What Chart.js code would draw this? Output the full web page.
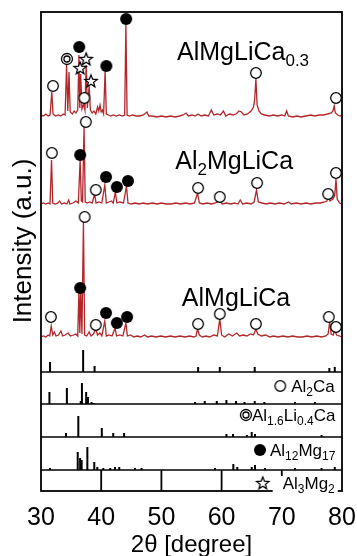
<!DOCTYPE html>
<html>
<head>
<meta charset="utf-8">
<script src="https://cdn.jsdelivr.net/npm/chart.js@4.4.0/dist/chart.umd.min.js"></script>
<style>
  html, body { margin: 0; padding: 0; background: #fff; }
</style>
</head>
<body>
<canvas id="xrd" width="357" height="556"></canvas>
<script>
// ---------- data ----------
// 2θ axis range and tick labels
const twoThetaRange = [30, 80];
const twoThetaTicks = [30, 40, 50, 60, 70, 80];

// Measured diffractograms: [2θ (deg), intensity (a.u., above the trace baseline)]
const patternAlMgLiCa03 = [
  [30,2],[30.4,1],[30.8,3],[31.2,1],[31.5,2],[31.8,25],[32.0,3],[32.4,1],[32.9,2],[33.3,1],
  [33.7,3],[34.0,2],[34.25,52],[34.45,6],[34.65,45],[34.85,5],[35.2,3],[35.5,6],[35.8,4],[36.1,7],
  [36.3,62],[36.45,9],[36.6,43],[36.8,8],[37.1,13],[37.3,7],[37.5,52],[37.7,9],[38.0,31],[38.2,7],
  [38.5,4],[38.8,6],[39.1,3],[39.4,10],[39.6,6],[39.8,12],[40.0,5],[40.2,7],[40.4,3],[40.65,46],
  [40.85,3],[41.2,2],[41.6,1],[42.0,2],[42.5,1],[43.0,2],[43.5,1],[43.9,2],[44.1,93],[44.3,2],
  [44.7,1],[45.2,2],[45.8,1],[46.4,1],[47.0,2],[47.6,5],[47.9,1],[48.5,1],[49.2,0],[50.0,1],
  [50.8,0],[51.5,1],[52.3,0],[53.0,1],[53.6,2],[54.1,4],[54.5,1],[55.1,2],[55.6,1],[56.1,3],
  [56.6,1],[57.2,2],[57.8,1],[58.3,7],[58.7,2],[59.3,3],[59.8,2],[60.3,6],[60.7,1],[61.3,3],
  [61.9,2],[62.4,3],[62.9,6],[63.3,5],[63.7,2],[64.3,3],[64.9,6],[65.3,10],[65.5,18],[65.7,38],
  [65.9,12],[66.2,6],[66.6,3],[67.2,2],[67.9,1],[68.6,2],[69.3,1],[70.0,2],[70.5,1],[70.8,6],
  [71.1,1],[71.8,0],[72.5,1],[73.2,0],[74.0,1],[74.8,2],[75.5,1],[76.2,2],[76.9,2],[77.6,3],
  [78.2,4],[78.5,6],[78.7,11],[78.9,4],[79.3,2],[79.7,1],[80,2]
];
const patternAl2MgLiCa = [
  [30,1],[30.4,2],[30.8,1],[31.2,2],[31.5,1],[31.75,45],[31.95,2],[32.4,1],[32.8,2],[33.1,4],
  [33.4,1],[33.9,2],[34.3,1],[34.6,5],[34.8,1],[35.3,2],[35.8,4],[36.2,2],[36.5,45],[36.7,4],
  [36.9,3],[37.15,78],[37.35,3],[37.7,2],[38.1,3],[38.5,2],[38.9,11],[39.15,2],[39.6,3],[40.1,2],
  [40.6,20],[40.85,2],[41.3,3],[41.7,4],[42.0,2],[42.35,13],[42.6,2],[43.1,3],[43.7,2],[44.2,19],
  [44.45,2],[45.0,1],[45.6,2],[46.3,1],[47.0,2],[47.7,1],[48.5,2],[49.3,1],[50.0,2],[50.8,1],
  [51.6,1],[52.4,2],[53.2,1],[54.0,2],[54.8,1],[55.5,2],[56.0,12],[56.3,2],[56.9,1],[57.6,2],
  [58.3,1],[59.0,2],[59.7,4],[60.1,1],[60.8,2],[61.5,1],[62.2,2],[62.7,1],[63.1,5],[63.5,1],
  [64.2,2],[64.9,1],[65.4,3],[65.8,15],[66.1,3],[66.7,2],[67.4,1],[68.1,2],[68.8,1],[69.6,2],
  [70.4,1],[71.1,3],[71.6,1],[72.4,2],[73.2,1],[74.0,2],[74.8,1],[75.6,2],[76.4,2],[77.1,3],
  [77.5,4],[77.75,9],[78.0,4],[78.5,6],[78.8,10],[79.0,26],[79.2,6],[79.6,2],[80,1]
];
const patternAlMgLiCa = [
  [30,1],[30.4,2],[30.8,1],[31.2,3],[31.45,2],[31.7,12],[31.95,3],[32.2,6],[32.5,2],[32.9,3],
  [33.3,7],[33.6,2],[34.0,3],[34.5,5],[34.9,2],[35.4,3],[35.8,4],[36.1,2],[36.3,48],[36.45,5],
  [36.6,48],[36.8,4],[37.05,116],[37.25,3],[37.6,2],[38.0,6],[38.3,2],[38.7,4],[39.1,9],[39.4,3],
  [39.8,5],[40.1,2],[40.6,17],[40.85,2],[41.3,3],[41.8,2],[42.3,10],[42.55,2],[43.1,3],[43.6,2],
  [44.1,15],[44.35,2],[44.9,3],[45.4,1],[46.0,2],[46.6,1],[47.2,3],[47.7,1],[48.4,2],[49.1,1],
  [49.9,2],[50.7,1],[51.5,2],[52.3,1],[53.1,2],[53.9,1],[54.7,2],[55.4,1],[55.75,2],[56.0,9],
  [56.3,3],[56.8,1],[57.4,2],[58.0,1],[58.7,3],[59.3,2],[59.7,19],[60.0,3],[60.5,1],[61.2,4],
  [61.8,2],[62.5,5],[63.0,2],[63.6,3],[64.2,2],[64.8,4],[65.3,3],[65.7,9],[66.0,4],[66.6,2],
  [67.3,3],[68.0,1],[68.6,2],[69.4,1],[70.2,2],[71.0,1],[71.8,2],[72.6,1],[73.4,1],[74.2,2],
  [75.0,1],[75.8,2],[76.6,1],[77.3,2],[77.7,4],[77.95,16],[78.2,4],[78.55,3],[78.8,8],[79.1,3],
  [79.6,2],[80,1]
];

// Phase markers on each trace: [2θ, marker height above the trace baseline]
const al2caMarksA = [[32.0,31],[37.2,19],[65.7,44],[79.0,19]];
const liPhaseMarksA = [[34.3,58]];
const al12mg17MarksA = [[36.35,70],[40.85,51],[44.15,98]];
const al3mg2MarksA = [[36.5,49],[37.5,58],[38.3,36]];

const al2caMarksB = [[31.8,52],[37.45,83],[39.1,15],[56.1,17],[59.7,8],[65.9,22],[77.7,11],[79.0,32]];
const al12mg17MarksB = [[36.5,50],[40.8,28],[42.6,18],[44.45,24]];

const al2caMarksC = [[31.65,21],[37.25,121],[39.1,13],[56.1,14],[59.7,24],[65.7,14],[77.8,21],[79.0,11]];
const al12mg17MarksC = [[36.5,50],[40.8,25],[42.6,15],[44.3,21]];

// Reference stick patterns: [2θ, relative intensity]
const sticksAl2Ca = [[31.5,10],[37.0,22],[38.9,6],[56.1,5],[59.7,5],[65.5,5],[77.9,4],[78.8,5]];
const sticksAl16Li04Ca = [[31.4,12],[34.3,16],[36.6,3],[36.8,21],[37.5,12],[37.8,7],[38.4,2],[38.8,1],
  [55.6,2],[57.2,3],[59.2,3],[60.8,4],[62.4,3],[63.8,2],[65.5,3],[67.1,2],[72.2,2],[75.5,2]];
const sticksAl12Mg17 = [[34.15,4],[36.2,21],[40.1,9],[42.0,4],[43.8,4],[60.8,3],[61.9,3],[64.2,2],
  [65.0,5],[65.55,3],[76.6,2]];
const sticksAl3Mg2 = [[31.5,2],[36.1,18],[36.5,12],[36.75,10],[37.7,23],[38.85,8],[39.35,3],[40.35,2],
  [41.5,2],[42.3,3],[43.0,3],[45.6,2],[46.7,2],[58.9,2],[61.95,6],[62.6,3],[65.0,3],[65.55,5],
  [67.2,2],[72.2,2],[76.6,2],[78.8,3]];

// ---------- layout (vertical stacking on one shared intensity axis) ----------
const FONT = "'Liberation Sans', Arial, Helvetica, sans-serif";
const yTop = 479;
const offsets = { traceA: 374, traceB: 286, traceC: 153,
                  al2ca: 119, li: 87, al12mg17: 54, al3mg2: 21, strip: 0 };
const separators = [offsets.al2ca, offsets.li, offsets.al12mg17, offsets.al3mg2];
const TRACE_RED = '#b3262a';

// ---------- marker glyphs ----------
function glyph(kind) {
  const s = 18, c = document.createElement('canvas');
  c.width = s; c.height = s;
  const g = c.getContext('2d'), m = s / 2;
  g.strokeStyle = '#000'; g.fillStyle = '#fff'; g.lineWidth = 1.3;
  if (kind === 'open') {
    g.beginPath(); g.arc(m, m, 5.3, 0, Math.PI * 2); g.fill(); g.stroke();
  } else if (kind === 'filled') {
    g.fillStyle = '#000';
    g.beginPath(); g.arc(m, m, 6, 0, Math.PI * 2); g.fill();
  } else if (kind === 'ringed') {
    g.beginPath(); g.arc(m, m, 5.5, 0, Math.PI * 2); g.fill(); g.stroke();
    g.beginPath(); g.arc(m, m, 3, 0, Math.PI * 2); g.stroke();
  } else if (kind === 'star') {
    g.beginPath();
    for (let i = 0; i < 10; i++) {
      const r = i % 2 ? 2.8 : 6.5;
      const a = -Math.PI / 2 + i * Math.PI / 5;
      const px = m + r * Math.cos(a), py = m + 0.5 + r * Math.sin(a);
      i ? g.lineTo(px, py) : g.moveTo(px, py);
    }
    g.closePath(); g.fill(); g.stroke();
  }
  return c;
}
const G = { open: glyph('open'), filled: glyph('filled'), ringed: glyph('ringed'), star: glyph('star') };

// ---------- dataset builders ----------
const shift = (pairs, base) => pairs.map(([t, v]) => ({ x: t, y: base + v }));
function traceSet(pairs, base) {
  return { type: 'line', data: shift(pairs, base), borderColor: TRACE_RED, borderWidth: 1.3,
           pointRadius: 0, tension: 0, order: 2 };
}
function markSet(pairs, base, kind) {
  return { type: 'line', data: shift(pairs, base), showLine: false, pointStyle: G[kind],
           pointRadius: 6, order: 0 };
}
function stickSet(pairs, base) {
  const d = [];
  pairs.forEach(([t, v]) => { d.push({ x: t, y: base }, { x: t, y: base + v }, { x: t, y: null }); });
  return { type: 'line', data: d, borderColor: '#000', borderWidth: 2, borderCapStyle: 'butt',
           pointRadius: 0, spanGaps: false, tension: 0, order: 1 };
}

const datasets = [
  markSet(al2caMarksA, offsets.traceA, 'open'),
  markSet(liPhaseMarksA, offsets.traceA, 'ringed'),
  markSet(al12mg17MarksA, offsets.traceA, 'filled'),
  markSet(al3mg2MarksA, offsets.traceA, 'star'),
  markSet(al2caMarksB, offsets.traceB, 'open'),
  markSet(al12mg17MarksB, offsets.traceB, 'filled'),
  markSet(al2caMarksC, offsets.traceC, 'open'),
  markSet(al12mg17MarksC, offsets.traceC, 'filled'),
  traceSet(patternAlMgLiCa03, offsets.traceA),
  traceSet(patternAl2MgLiCa, offsets.traceB),
  traceSet(patternAlMgLiCa, offsets.traceC),
  stickSet(sticksAl2Ca, offsets.al2ca),
  stickSet(sticksAl16Li04Ca, offsets.li),
  stickSet(sticksAl12Mg17, offsets.al12mg17),
  stickSet(sticksAl3Mg2, offsets.al3mg2)
];

// ---------- text helpers ----------
function richWidth(ctx, parts, size, sub) {
  let w = 0;
  parts.forEach(([t, s]) => { ctx.font = (s ? sub : size) + 'px ' + FONT; w += ctx.measureText(t).width; });
  return w;
}
function drawRich(ctx, parts, x, y, size, sub, drop) {
  let cx = x;
  parts.forEach(([t, s]) => {
    ctx.font = (s ? sub : size) + 'px ' + FONT;
    ctx.fillText(t, cx, s ? y + drop : y);
    cx += ctx.measureText(t).width;
  });
  return cx;
}

// sample names (left edge 2θ, baseline height)
const sampleLabels = [
  { parts: [['AlMgLiCa', 0], ['0.3', 1]], at: [52.6, 431] },
  { parts: [['Al', 0], ['2', 1], ['MgLiCa', 0]], at: [52.3, 322] },
  { parts: [['AlMgLiCa', 0]], at: [53.4, 185] }
];
// phase keys (right edge 2θ, baseline height, glyph, gap)
const phaseKeys = [
  { parts: [['Al', 0], ['2', 1], ['Ca', 0]], at: [78.8, 99], g: 'open', gap: 11 },
  { parts: [['Al', 0], ['1.6', 1], ['Li', 0], ['0.4', 1], ['Ca', 0]], at: [78.9, 70], g: 'ringed', gap: 6 },
  { parts: [['Al', 0], ['12', 1], ['Mg', 0], ['17', 1]], at: [78.9, 35], g: 'filled', gap: 10 },
  { parts: [['Al', 0], ['3', 1], ['Mg', 0], ['2', 1]], at: [78.8, 2], g: 'star', gap: 20, boxed: true }
];
const yTitle = { text: 'Intensity (a.u.)', at: 250 }; // centre height on the intensity axis

const decor = {
  id: 'decor',
  afterDatasetsDraw(chart) {
    const { ctx, chartArea: a, scales: { x, y } } = chart;
    ctx.save();
    ctx.strokeStyle = '#000';
    ctx.lineWidth = 1.6;
    // strip separators
    separators.forEach(v => {
      const py = y.getPixelForValue(v);
      ctx.beginPath(); ctx.moveTo(a.left, py); ctx.lineTo(a.right, py); ctx.stroke();
    });
    // inner ticks in the bottom strip
    ctx.lineWidth = 1.8;
    x.ticks.forEach(t => {
      if (t.value <= twoThetaRange[0] || t.value >= twoThetaRange[1]) return;
      const px = x.getPixelForValue(t.value);
      ctx.beginPath(); ctx.moveTo(px, y.getPixelForValue(offsets.strip));
      ctx.lineTo(px, y.getPixelForValue(offsets.al3mg2)); ctx.stroke();
    });
    // frame
    ctx.lineWidth = 1.8;
    ctx.strokeRect(a.left, a.top, a.right - a.left, a.bottom - a.top);

    ctx.fillStyle = '#000';
    ctx.textBaseline = 'alphabetic';
    sampleLabels.forEach(l => {
      drawRich(ctx, l.parts, x.getPixelForValue(l.at[0]), y.getPixelForValue(l.at[1]), 25, 17, 6);
    });
    phaseKeys.forEach(k => {
      const w = richWidth(ctx, k.parts, 17, 12);
      const right = x.getPixelForValue(k.at[0]);
      const base = y.getPixelForValue(k.at[1]);
      const left = right - w;
      const gx = left - k.gap;
      if (k.boxed) {
        ctx.fillStyle = '#fff';
        ctx.fillRect(left - 10, base - 13, w + 13, 18);
        ctx.fillStyle = '#000';
      }
      const img = G[k.g];
      ctx.drawImage(img, gx - img.width / 2, base - 6 - img.height / 2);
      drawRich(ctx, k.parts, left, base, 17, 12, 4);
    });

    // intensity axis title
    ctx.save();
    ctx.translate(24, y.getPixelForValue(yTitle.at));
    ctx.rotate(-Math.PI / 2);
    ctx.font = '26px ' + FONT;
    ctx.textAlign = 'center';
    ctx.textBaseline = 'middle';
    ctx.fillText(yTitle.text, 0, 0);
    ctx.restore();
    ctx.restore();
  }
};

new Chart(document.getElementById('xrd'), {
  type: 'line',
  data: { datasets },
  options: {
    responsive: false,
    animation: false,
    devicePixelRatio: 1,
    layout: { padding: { top: 12, right: 15, left: 0, bottom: 0 } },
    plugins: { legend: { display: false }, tooltip: { enabled: false } },
    scales: {
      x: {
        type: 'linear', min: twoThetaRange[0], max: twoThetaRange[1],
        afterBuildTicks: s => { s.ticks = twoThetaTicks.map(v => ({ value: v })); },
        ticks: { font: { family: FONT, size: 25 }, color: '#000', padding: 12, maxRotation: 0, autoSkip: false },
        grid: { display: false, drawTicks: false },
        border: { display: false },
        title: { display: true, text: '2θ [degree]', color: '#000',
                 font: { family: FONT, size: 24, lineHeight: 1 }, padding: { top: 0, bottom: -1 } },
        afterFit: s => { s.height = 65; s.paddingLeft = 0; s.paddingRight = 0; }
      },
      y: {
        type: 'linear', min: 0, max: yTop,
        ticks: { display: false },
        grid: { display: false, drawTicks: false },
        border: { display: false },
        afterFit: s => { s.width = 41; }
      }
    }
  },
  plugins: [decor]
});
</script>
</body>
</html>
